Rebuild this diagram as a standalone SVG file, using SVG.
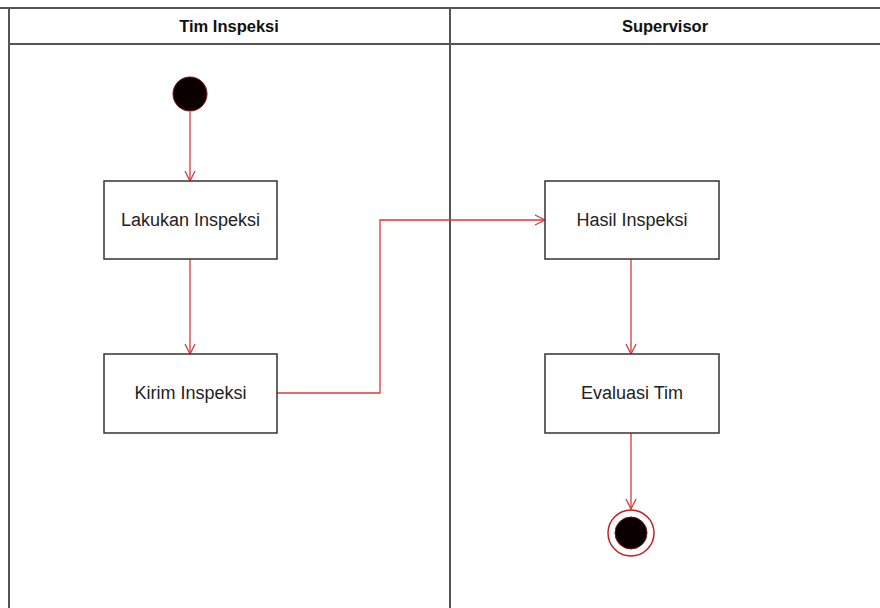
<svg xmlns="http://www.w3.org/2000/svg" width="880" height="608" viewBox="0 0 880 608">
<style>
.lane{stroke:#555;stroke-width:2;fill:none}
.box{fill:#fff;stroke:#333;stroke-width:1.5}
.lbl{font-family:"Liberation Sans",Arial,sans-serif;font-size:18px;fill:#222;text-anchor:middle;dominant-baseline:central}
.hdr{font-family:"Liberation Sans",Arial,sans-serif;font-size:16.5px;font-weight:bold;fill:#111;text-anchor:middle;dominant-baseline:central}
.flow{stroke:#d83a3a;stroke-width:1.3;fill:none;marker-end:url(#arr)}
</style>
<defs>
<marker id="arr" viewBox="0 0 12 12" refX="11" refY="6" markerWidth="12" markerHeight="12" markerUnits="userSpaceOnUse" orient="auto">
<path d="M1,1 L11,6 L1,11" fill="none" stroke="#d83a3a" stroke-width="1.3"/>
</marker>
</defs>
<rect x="0" y="0" width="880" height="608" fill="#fff"/>
<g id="lanes">
<line class="lane" x1="0" y1="8" x2="880" y2="8"/>
<line class="lane" x1="9" y1="8" x2="9" y2="608"/>
<line class="lane" x1="9" y1="44" x2="880" y2="44"/>
<line class="lane" x1="450" y1="8" x2="450" y2="608"/>
<text class="hdr" x="229" y="26">Tim Inspeksi</text>
<text class="hdr" x="665" y="26">Supervisor</text>
</g>
<g id="connectors">
<line class="flow" x1="190" y1="112" x2="190" y2="181"/>
<line class="flow" x1="190" y1="259" x2="190" y2="354"/>
<polyline class="flow" points="277,393 380,393 380,220 545,220"/>
<line class="flow" x1="631" y1="259" x2="631" y2="354"/>
<line class="flow" x1="631" y1="433" x2="631" y2="509"/>
</g>
<g id="start">
<circle cx="190" cy="94" r="17" fill="#0a0000" stroke="#7a1010" stroke-width="1"/>
</g>
<g id="lakukan">
<rect class="box" x="104" y="181" width="173" height="78"/>
<text class="lbl" x="190.5" y="220">Lakukan Inspeksi</text>
</g>
<g id="kirim">
<rect class="box" x="104" y="354" width="173" height="79"/>
<text class="lbl" x="190.5" y="393">Kirim Inspeksi</text>
</g>
<g id="hasil">
<rect class="box" x="545" y="181" width="174" height="78"/>
<text class="lbl" x="632" y="220">Hasil Inspeksi</text>
</g>
<g id="evaluasi">
<rect class="box" x="545" y="354" width="174" height="79"/>
<text class="lbl" x="632" y="393">Evaluasi Tim</text>
</g>
<g id="end">
<circle cx="631" cy="533" r="23" fill="#fff" stroke="#c02020" stroke-width="1.5"/>
<circle cx="631" cy="533" r="16" fill="#0a0000" stroke="#7a1010" stroke-width="1"/>
</g>
</svg>
